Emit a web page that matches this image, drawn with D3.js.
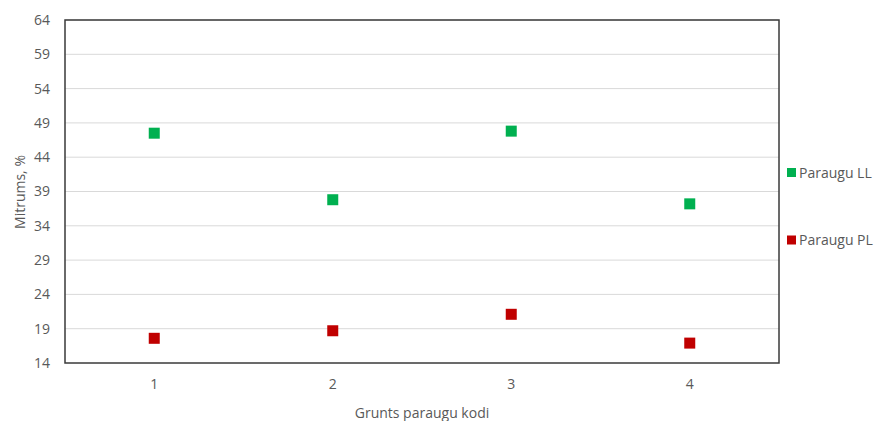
<!DOCTYPE html>
<html><head><meta charset="utf-8">
<script src="https://cdn.jsdelivr.net/npm/d3@7"></script>
<style>body{margin:0;background:#fff;}text{font-family:"Open Sans","Liberation Sans",sans-serif;}</style>
</head><body><svg id="c" width="877" height="421"></svg>
<script>
const categories = ["1","2","3","4"];
const seriesNames = ["Paraugu LL","Paraugu PL"];
const llValues = [47.5, 37.8, 47.8, 37.2];
const plValues = [17.6, 18.7, 21.1, 16.9];
const yTicks = [14,19,24,29,34,39,44,49,54,59,64];
const colors = ["#00B050","#C00000"];

const svg = d3.select("#c");
const m = {l:65, r:779, t:20, b:363};
const x = d3.scaleBand().domain(categories).range([m.l, m.r]);
const y = d3.scaleLinear().domain([14,64]).range([m.b, m.t]);

// gridlines
svg.append("g").selectAll("line").data(yTicks.slice(1)).join("line")
  .attr("x1", m.l).attr("x2", m.r).attr("y1", d=>y(d)).attr("y2", d=>y(d))
  .attr("stroke", "#d9d9d9").attr("stroke-width", 1);

// border
svg.append("rect").attr("x", m.l).attr("y", m.t).attr("width", m.r-m.l).attr("height", m.b-m.t)
  .attr("fill","none").attr("stroke","#3a3a3a").attr("stroke-width",1.5);

// y axis
const ya = svg.append("g").attr("transform",`translate(${m.l},0)`)
  .call(d3.axisLeft(y).tickValues(yTicks).tickSize(0).tickPadding(15));
ya.select(".domain").remove();
ya.selectAll("text").attr("fill","#595959").style("font-size","14px");

// x axis
const xa = svg.append("g").attr("transform",`translate(0,${m.b})`)
  .call(d3.axisBottom(x).tickSize(0).tickPadding(16));
xa.select(".domain").remove();
xa.selectAll("text").attr("fill","#595959").style("font-size","14px");

// points
const s = 11;
[llValues, plValues].forEach((vals,i)=>{
  svg.append("g").selectAll("rect").data(vals).join("rect")
    .attr("x",(d,j)=>x(categories[j])+x.bandwidth()/2 - s/2)
    .attr("y",d=>y(d)-s/2).attr("width",s).attr("height",s)
    .attr("fill",colors[i]);
});

// axis titles
svg.append("text").attr("x",(m.l+m.r)/2).attr("y",418).attr("text-anchor","middle")
  .attr("fill","#595959").style("font-size","14px").text("Grunts paraugu kodi");
svg.append("text").attr("transform","translate(25,192) rotate(-90)").attr("text-anchor","middle")
  .attr("fill","#595959").style("font-size","14px").text("Mitrums, %");

// legend
const ly = [172.5, 240];
seriesNames.forEach((n,i)=>{
  svg.append("rect").attr("x",787).attr("y",ly[i]-4.5).attr("width",9).attr("height",9).attr("fill",colors[i]);
  svg.append("text").attr("x",799).attr("y",ly[i]+5).attr("fill","#595959").style("font-size","14px").text(n);
});
</script></body></html>
